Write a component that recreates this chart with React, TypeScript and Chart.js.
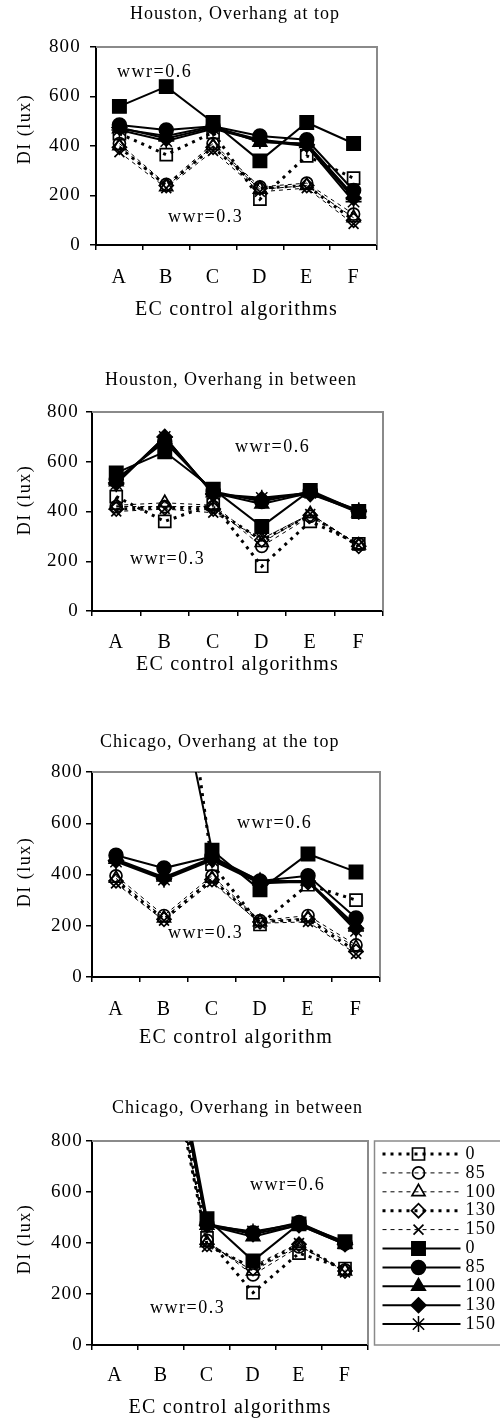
import React, { useEffect, useRef } from 'react';
import { Chart, registerables } from 'chart.js';
import { drawPoint } from 'chart.js/helpers';

Chart.register(...registerables);

const FONT_FAMILY = "'Liberation Serif', 'Times New Roman', serif";
const LETTER_SPACING = '1.2px';

const categories = ['A', 'B', 'C', 'D', 'E', 'F'];
const overhangLabels = ['0', '85', '100', '130', '150'];
const yAxisMin = 0;
const yAxisMax = 800;
const yAxisStep = 200;

// ---- Houston, Overhang at top ----
const houstonTopW03_0 = [450, 365, 455, 185, 360, 270];
const houstonTopW03_85 = [410, 245, 410, 235, 250, 125];
const houstonTopW03_100 = [400, 235, 400, 225, 240, 110];
const houstonTopW03_130 = [395, 240, 395, 230, 240, 100];
const houstonTopW03_150 = [375, 230, 380, 215, 230, 85];
const houstonTopW06_0 = [560, 640, 495, 340, 495, 410];
const houstonTopW06_85 = [485, 465, 480, 440, 425, 220];
const houstonTopW06_100 = [470, 440, 480, 415, 410, 200];
const houstonTopW06_130 = [475, 430, 475, 425, 405, 190];
const houstonTopW06_150 = [465, 420, 470, 420, 400, 175];

// ---- Houston, Overhang in between ----
const houstonMidW03_0 = [460, 360, 430, 180, 360, 270];
const houstonMidW03_85 = [420, 420, 420, 260, 380, 270];
const houstonMidW03_100 = [425, 435, 425, 275, 390, 265];
const houstonMidW03_130 = [410, 415, 410, 285, 385, 260];
const houstonMidW03_150 = [400, 410, 395, 290, 390, 265];
const houstonMidW06_0 = [555, 640, 490, 340, 485, 400];
const houstonMidW06_85 = [530, 680, 480, 440, 480, 400];
const houstonMidW06_100 = [520, 690, 475, 430, 475, 395];
const houstonMidW06_130 = [515, 700, 470, 450, 470, 400];
const houstonMidW06_150 = [510, 700, 470, 455, 475, 405];

// ---- Chicago, Overhang at the top ----
const chicagoTopW03_0 = [null, 1800, 440, 205, 360, 300];
const chicagoTopW03_85 = [395, 240, 395, 220, 240, 125];
const chicagoTopW03_100 = [385, 230, 385, 215, 230, 115];
const chicagoTopW03_130 = [375, 225, 380, 215, 225, 100];
const chicagoTopW03_150 = [365, 220, 370, 210, 215, 90];
const chicagoTopW06_0 = [null, 1400, 495, 340, 480, 410];
const chicagoTopW06_85 = [475, 425, 470, 375, 395, 230];
const chicagoTopW06_100 = [460, 390, 465, 375, 375, 200];
const chicagoTopW06_130 = [455, 385, 460, 370, 370, 190];
const chicagoTopW06_150 = [450, 380, 455, 365, 375, 180];

// ---- Chicago, Overhang in between ----
const chicagoMidW03_0 = [null, 1350, 420, 205, 360, 300];
const chicagoMidW03_85 = [null, 1320, 410, 275, 385, 295];
const chicagoMidW03_100 = [null, 1320, 400, 290, 390, 290];
const chicagoMidW03_130 = [null, 1300, 395, 300, 395, 290];
const chicagoMidW03_150 = [null, 1300, 385, 310, 400, 285];
const chicagoMidW06_0 = [null, 1450, 495, 330, 475, 405];
const chicagoMidW06_85 = [null, 1420, 475, 440, 480, 400];
const chicagoMidW06_100 = [null, 1400, 470, 425, 470, 395];
const chicagoMidW06_130 = [null, 1400, 470, 435, 470, 395];
const chicagoMidW06_150 = [null, 1400, 470, 445, 475, 400];

// styles (not data)
type SeriesStyle = {
  pointStyle: string;
  radius: number;
  dash: number[];
  width: number;
  filled: boolean;
};
const dottedStyles: SeriesStyle[] = [
  { pointStyle: 'rect', radius: 8.5, dash: [3, 5], width: 3, filled: false },
  { pointStyle: 'circle', radius: 6, dash: [4, 4], width: 1, filled: false },
  { pointStyle: 'triangle', radius: 7.5, dash: [4, 4], width: 1, filled: false },
  { pointStyle: 'rectRot', radius: 7, dash: [3, 5], width: 3, filled: false },
  { pointStyle: 'crossRot', radius: 7, dash: [4, 4], width: 1, filled: false },
];
const solidStyles: SeriesStyle[] = [
  { pointStyle: 'rect', radius: 9.5, dash: [], width: 2, filled: true },
  { pointStyle: 'circle', radius: 7, dash: [], width: 2, filled: true },
  { pointStyle: 'triangle', radius: 8, dash: [], width: 2, filled: true },
  { pointStyle: 'rectRot', radius: 7.5, dash: [], width: 2, filled: true },
  { pointStyle: 'star', radius: 8, dash: [], width: 2, filled: true },
];

type PanelCfg = {
  id: string;
  top: number;
  height: number;
  plotLeft: number;
  plotRight: number;
  plotTop: number;
  plotBottom: number;
  tickPad: number;
  xAxisH: number;
  yTickPad: number;
  title: string;
  titleX: number;
  titleY: number;
  yTitleY: number;
  xTitle: string;
  wwr6: [number, number];
  wwr3: [number, number];
  legend: boolean;
  w03: (number | null)[][];
  w06: (number | null)[][];
};

const panels: PanelCfg[] = [
  {
    id: 'p1', top: 0, height: 350,
    plotLeft: 96, plotRight: 377, plotTop: 47, plotBottom: 245,
    tickPad: 16, xAxisH: 77, yTickPad: 9,
    title: 'Houston, Overhang at top', titleX: 130, titleY: 14, yTitleY: 129,
    xTitle: 'EC control algorithms', wwr6: [117, 72], wwr3: [168, 217], legend: false,
    w03: [houstonTopW03_0, houstonTopW03_85, houstonTopW03_100, houstonTopW03_130, houstonTopW03_150],
    w06: [houstonTopW06_0, houstonTopW06_85, houstonTopW06_100, houstonTopW06_130, houstonTopW06_150],
  },
  {
    id: 'p2', top: 350, height: 360,
    plotLeft: 92, plotRight: 383, plotTop: 412, plotBottom: 611,
    tickPad: 15, xAxisH: 66, yTickPad: 7,
    title: 'Houston, Overhang in between', titleX: 105, titleY: 380, yTitleY: 500,
    xTitle: 'EC control algorithms', wwr6: [235, 447], wwr3: [130, 559], legend: false,
    w03: [houstonMidW03_0, houstonMidW03_85, houstonMidW03_100, houstonMidW03_130, houstonMidW03_150],
    w06: [houstonMidW06_0, houstonMidW06_85, houstonMidW06_100, houstonMidW06_130, houstonMidW06_150],
  },
  {
    id: 'p3', top: 710, height: 360,
    plotLeft: 92, plotRight: 380, plotTop: 772, plotBottom: 977,
    tickPad: 16, xAxisH: 73, yTickPad: 3,
    title: 'Chicago, Overhang at the top', titleX: 100, titleY: 742, yTitleY: 872,
    xTitle: 'EC control algorithm', wwr6: [237, 823], wwr3: [168, 933], legend: false,
    w03: [chicagoTopW03_0, chicagoTopW03_85, chicagoTopW03_100, chicagoTopW03_130, chicagoTopW03_150],
    w06: [chicagoTopW06_0, chicagoTopW06_85, chicagoTopW06_100, chicagoTopW06_130, chicagoTopW06_150],
  },
  {
    id: 'p4', top: 1070, height: 353,
    plotLeft: 92, plotRight: 368, plotTop: 1141, plotBottom: 1345,
    tickPad: 14, xAxisH: 75, yTickPad: 3,
    title: 'Chicago, Overhang in between', titleX: 112, titleY: 1108, yTitleY: 1239,
    xTitle: 'EC control algorithms', wwr6: [250, 1185], wwr3: [150, 1308], legend: true,
    w03: [chicagoMidW03_0, chicagoMidW03_85, chicagoMidW03_100, chicagoMidW03_130, chicagoMidW03_150],
    w06: [chicagoMidW06_0, chicagoMidW06_85, chicagoMidW06_100, chicagoMidW06_130, chicagoMidW06_150],
  },
];

function makeDataset(label: string, data: (number | null)[], st: SeriesStyle) {
  return {
    label,
    data,
    borderColor: '#000',
    borderWidth: st.width,
    borderDash: st.dash,
    fill: false,
    tension: 0,
    pointStyle: st.pointStyle,
    pointRadius: st.radius,
    pointBackgroundColor: st.filled ? '#000' : 'rgba(0,0,0,0)',
    pointBorderColor: '#000',
    pointBorderWidth: st.filled ? 1.5 : 1.7,
    _legendStyle: st,
  } as any;
}

function DIChart({ cfg }: { cfg: PanelCfg }) {
  const ref = useRef<HTMLCanvasElement | null>(null);

  useEffect(() => {
    if (!ref.current) return;
    const off = cfg.top;

    const spacingPlugin = {
      id: 'spacing',
      beforeDraw(chart: any) {
        chart.ctx.letterSpacing = LETTER_SPACING;
      },
    };

    const framePlugin = {
      id: 'frame',
      beforeDatasetsDraw(chart: any) {
        const { ctx, chartArea: a } = chart;
        ctx.save();
        ctx.strokeStyle = '#8a8a8a';
        ctx.lineWidth = 2;
        ctx.setLineDash([]);
        ctx.beginPath();
        ctx.moveTo(a.left, a.top);
        ctx.lineTo(a.right, a.top);
        ctx.lineTo(a.right, a.bottom);
        ctx.stroke();
        ctx.restore();
      },
    };

    const textPlugin = {
      id: 'texts',
      afterDraw(chart: any) {
        const ctx = chart.ctx;
        ctx.save();
        ctx.letterSpacing = '1px';
        ctx.fillStyle = '#000';
        ctx.textBaseline = 'middle';
        ctx.textAlign = 'left';
        ctx.font = `18px ${FONT_FAMILY}`;
        ctx.fillText(cfg.title, cfg.titleX, cfg.titleY - off);
        ctx.letterSpacing = '1.5px';
        ctx.font = `18px ${FONT_FAMILY}`;
        ctx.fillText('wwr=0.6', cfg.wwr6[0], cfg.wwr6[1] - off);
        ctx.fillText('wwr=0.3', cfg.wwr3[0], cfg.wwr3[1] - off);
        ctx.translate(25, cfg.yTitleY - off);
        ctx.rotate(-Math.PI / 2);
        ctx.textAlign = 'center';
        ctx.fillText('DI (lux)', 0, 0);
        ctx.restore();
      },
    };

    const legendPlugin = {
      id: 'sideLegend',
      afterDraw(chart: any) {
        if (!cfg.legend) return;
        const ctx = chart.ctx;
        const a = chart.chartArea;
        const boxLeft = a.right + 6.5;
        ctx.save();
        ctx.strokeStyle = '#8a8a8a';
        ctx.lineWidth = 1.5;
        ctx.setLineDash([]);
        ctx.strokeRect(boxLeft, a.top, 140, a.bottom - a.top);
        const rowStart = a.top + 13;
        const rowStep = 18.9;
        chart.data.datasets.forEach((ds: any, i: number) => {
          const st: SeriesStyle = ds._legendStyle;
          const y = rowStart + i * rowStep;
          ctx.strokeStyle = '#000';
          ctx.lineWidth = st.width;
          ctx.setLineDash(st.dash);
          ctx.beginPath();
          ctx.moveTo(boxLeft + 8, y);
          ctx.lineTo(boxLeft + 86, y);
          ctx.stroke();
          ctx.setLineDash([]);
          ctx.fillStyle = st.filled ? '#000' : 'rgba(0,0,0,0)';
          ctx.strokeStyle = '#000';
          ctx.lineWidth = st.filled ? 1.5 : 1.7;
          drawPoint(ctx, { pointStyle: st.pointStyle, rotation: 0, radius: st.radius, borderWidth: ctx.lineWidth } as any, boxLeft + 44, y);
          ctx.fillStyle = '#000';
          ctx.letterSpacing = LETTER_SPACING;
          ctx.font = `18px ${FONT_FAMILY}`;
          ctx.textAlign = 'left';
          ctx.textBaseline = 'middle';
          ctx.fillText(ds.label, boxLeft + 91, y);
        });
        ctx.restore();
      },
    };

    const datasets = [
      ...cfg.w03.map((d, i) => makeDataset(overhangLabels[i], d, dottedStyles[i])),
      ...cfg.w06.map((d, i) => makeDataset(overhangLabels[i], d, solidStyles[i])),
    ];

    const chart = new Chart(ref.current, {
      type: 'line',
      data: { labels: categories, datasets },
      options: {
        responsive: false,
        animation: false,
        devicePixelRatio: 1,
        events: [],
        layout: {
          padding: {
            top: cfg.plotTop - off,
            right: 500 - cfg.plotRight,
            bottom: cfg.height - (cfg.plotBottom - off) - cfg.xAxisH,
            left: 0,
          },
        },
        plugins: {
          legend: { display: false },
          title: { display: false },
          tooltip: { enabled: false },
        },
        scales: {
          x: {
            type: 'category',
            offset: true,
            grid: {
              offset: true,
              drawOnChartArea: false,
              drawTicks: true,
              tickLength: 5,
              color: '#000',
              lineWidth: 1.5,
            },
            border: { display: true, color: '#000', width: 2 },
            ticks: {
              color: '#000',
              font: { family: FONT_FAMILY, size: 20 },
              padding: cfg.tickPad,
              maxRotation: 0,
              autoSkip: false,
            },
            title: {
              display: true,
              text: cfg.xTitle,
              color: '#000',
              font: { family: FONT_FAMILY, size: 20 },
              padding: 0,
            },
            afterFit: (s: any) => {
              s.height = cfg.xAxisH;
            },
          },
          y: {
            min: yAxisMin,
            max: yAxisMax,
            ticks: {
              stepSize: yAxisStep,
              color: '#000',
              font: { family: FONT_FAMILY, size: 19 },
              padding: cfg.yTickPad,
            },
            grid: {
              drawOnChartArea: false,
              drawTicks: true,
              tickLength: 6,
              color: '#000',
              lineWidth: 1.5,
            },
            border: { display: true, color: '#000', width: 2 },
            afterFit: (s: any) => {
              s.width = cfg.plotLeft;
            },
          },
        },
      } as any,
      plugins: [spacingPlugin, framePlugin, textPlugin, legendPlugin],
    });

    return () => chart.destroy();
  }, [cfg]);

  return (
    <canvas
      ref={ref}
      width={500}
      height={cfg.height}
      style={{ position: 'absolute', left: 0, top: cfg.top, width: 500, height: cfg.height }}
    />
  );
}

export default function App() {
  return (
    <div style={{ position: 'absolute', left: 0, top: 0, width: 500, height: 1423, background: '#fff' }}>
      {panels.map((p) => (
        <DIChart key={p.id} cfg={p} />
      ))}
    </div>
  );
}
